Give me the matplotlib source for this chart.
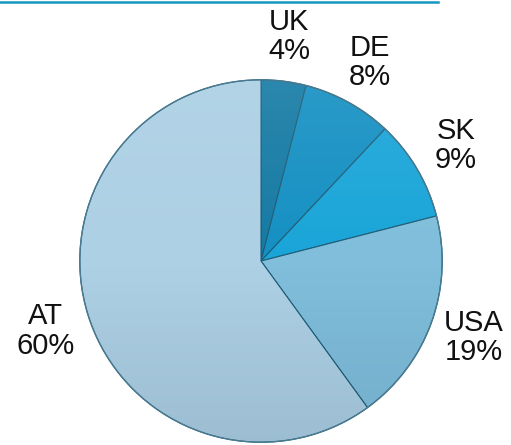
import numpy as np
import matplotlib
matplotlib.use("Agg")
import matplotlib.pyplot as plt
from matplotlib.patches import Circle
from matplotlib.lines import Line2D

plt.rcParams['font.family'] = ['Liberation Sans', 'DejaVu Sans']

countries = ["UK", "DE", "SK", "USA", "AT"]
shares = [4, 8, 9, 19, 60]
colors = ["#167aa3", "#1590c2", "#1aa5d8", "#80bedb", "#aed0e4"]

fig = plt.figure(figsize=(5.11, 4.45), dpi=100)
ax = fig.add_axes([78 / 511, 1 / 445, 366 / 511, 366 / 445])

labels = [f"{c}\n{s}%" for c, s in zip(countries, shares)]
wedges, texts = ax.pie(shares, labels=labels, colors=colors, startangle=90,
                       counterclock=False, labeldistance=1.25, radius=1.0,
                       wedgeprops=dict(edgecolor="#1d5d78", linewidth=0.8),
                       textprops=dict(fontsize=21, color="#111111"))
for t in texts:
    t.set_ha("center")
    t.set_va("center")
    t.set_linespacing(1.05)

# soft vertical shading over the pie, lighter on top, darker below
h = 200
grad = np.zeros((h, 2, 4))
v = np.linspace(0, 1, h)[:, None]
top = v < 0.5
grad[..., 0] = np.where(top, 0.85, 0.05)
grad[..., 1] = np.where(top, 0.95, 0.15)
grad[..., 2] = np.where(top, 1.0, 0.25)
grad[..., 3] = np.abs(v - 0.5) * 0.22
img = ax.imshow(grad, extent=(-1, 1, -1, 1), origin="upper", aspect="auto",
                interpolation="bilinear", zorder=3)
img.set_clip_path(Circle((0, 0), 1.0, transform=ax.transData))
ax.add_patch(Circle((0, 0), 1.0, fill=False, edgecolor="#4a7a90", lw=1.0, zorder=4))

ax.set_xlim(-1.01, 1.01)
ax.set_ylim(-1.01, 1.01)
ax.set_aspect("equal")
ax.axis("off")

fig.add_artist(Line2D([0, 438 / 511], [1 - 1.5 / 445, 1 - 1.5 / 445],
                      transform=fig.transFigure, color="#1596c0", lw=1.8))

fig.savefig("out.png", dpi=100)
